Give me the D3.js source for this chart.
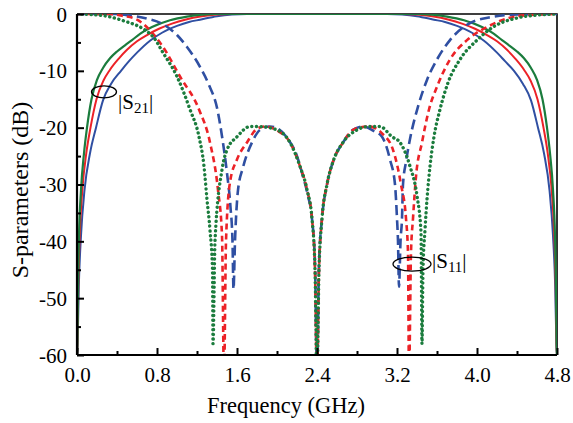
<!DOCTYPE html>
<html>
<head>
<meta charset="utf-8">
<script src="https://cdn.jsdelivr.net/npm/d3@7"></script>
<style>
  body { margin: 0; background: #fff; }
  svg, svg text { font-family: 'Liberation Serif', 'Times New Roman', Times, 'DejaVu Serif', serif; }
</style>
</head>
<body>
<div id="chart"></div>
<script>
// x ticks (GHz) and y ticks (dB)
var xTicks = [0, 0.8, 1.6, 2.4, 3.2, 4.0, 4.8];
var yTicks = [0, -10, -20, -30, -40, -50, -60];

// |S21|: [GHz, dB]
var s21Blue = [[0, -60], [0.006, -58], [0.018, -48], [0.04, -39], [0.075, -31], [0.13, -24.5], [0.19, -20],
  [0.26, -15.2], [0.34, -12.3], [0.44, -10], [0.52, -8.3], [0.6, -6.8], [0.73, -4.7], [0.85, -3.3], [1.0, -2.1],
  [1.12, -1.4], [1.23, -1.0], [1.4, -0.4], [1.55, -0.1], [1.7, 0], [3.1, 0], [3.25, -0.1], [3.4, -0.4], [3.57, -1.0],
  [3.68, -1.4], [3.8, -2.1], [3.95, -3.3], [4.07, -4.7], [4.2, -6.8], [4.28, -8.3], [4.37, -10], [4.46, -12.3],
  [4.54, -15.2], [4.61, -20], [4.67, -24.5], [4.725, -31], [4.76, -39], [4.782, -48], [4.794, -58], [4.8, -60]];
var s21Red = [[0, -60], [0.005, -58], [0.013, -48], [0.027, -39], [0.053, -31], [0.093, -24.5], [0.135, -20],
  [0.195, -15], [0.265, -11.7], [0.33, -9.8], [0.42, -7.8], [0.5, -6.3], [0.6, -4.8], [0.7, -3.7], [0.82, -2.6],
  [0.95, -1.7], [1.08, -1.0], [1.25, -0.4], [1.4, -0.1], [1.55, 0], [3.25, 0], [3.4, -0.1], [3.55, -0.4], [3.72, -1.0],
  [3.85, -1.7], [3.98, -2.6], [4.1, -3.7], [4.2, -4.8], [4.3, -6.3], [4.38, -7.8], [4.47, -9.8], [4.535, -11.7],
  [4.605, -15], [4.665, -20], [4.707, -24.5], [4.747, -31], [4.773, -39], [4.787, -48], [4.795, -58], [4.8, -60]];
var s21Green = [[0, -60], [0.004, -58], [0.01, -48], [0.02, -39], [0.04, -31], [0.07, -24.5], [0.1, -20],
  [0.145, -15], [0.2, -11.6], [0.26, -9.5], [0.33, -7.8], [0.4, -6.6], [0.48, -5.5], [0.55, -4.6], [0.63, -3.5],
  [0.75, -2.3], [0.93, -1.1], [1.1, -0.45], [1.25, -0.12], [1.4, 0], [3.4, 0], [3.55, -0.12], [3.7, -0.45],
  [3.87, -1.1], [4.05, -2.3], [4.17, -3.5], [4.25, -4.6], [4.32, -5.5], [4.4, -6.6], [4.47, -7.8], [4.54, -9.5],
  [4.6, -11.6], [4.655, -15], [4.7, -20], [4.73, -24.5], [4.76, -31], [4.78, -39], [4.79, -48], [4.796, -58], [4.8, -60]];

// |S11|: [GHz, dB]
var s11Blue = [[0, 0], [0.4, 0], [0.5, -0.2], [0.7, -0.8], [0.85, -1.7], [1.0, -3.7], [1.1, -5.8], [1.23, -9.3],
  [1.32, -12.5], [1.4, -16.5], [1.45, -21.5], [1.5, -28], [1.535, -34], [1.555, -40], [1.565, -48.4], [1.58, -40],
  [1.61, -31], [1.66, -27], [1.75, -22.6], [1.83, -20.4], [1.93, -19.8], [2.02, -20.3], [2.1, -21.8], [2.2, -25],
  [2.26, -28.6], [2.31, -32], [2.35, -36], [2.38, -44], [2.4, -64], [2.42, -44], [2.45, -36], [2.5, -30], [2.56, -26],
  [2.66, -22.6], [2.76, -20.4], [2.86, -19.8], [2.96, -20.5], [3.05, -21.6], [3.13, -25.6], [3.18, -30], [3.2, -36],
  [3.21, -40], [3.22, -48], [3.235, -40], [3.25, -36], [3.26, -30], [3.29, -26], [3.33, -22], [3.41, -16.3],
  [3.5, -11.6], [3.6, -8], [3.73, -4.6], [3.93, -1.6], [4.16, -0.5], [4.4, -0.1], [4.8, 0]];
var s11Red = [[0, 0], [0.3, 0], [0.45, -0.3], [0.6, -1], [0.86, -5.8], [1.03, -11], [1.22, -16.8], [1.33, -22.6],
  [1.41, -31], [1.45, -39], [1.47, -64], [1.49, -40], [1.53, -29.6], [1.6, -25.6], [1.7, -22.6], [1.8, -20.2],
  [1.88, -19.8], [2.0, -20.5], [2.13, -22.6], [2.23, -26.8], [2.3, -30.9], [2.35, -36], [2.38, -45], [2.4, -64],
  [2.42, -45], [2.45, -36], [2.5, -30], [2.56, -26], [2.66, -22.6], [2.78, -20.2], [2.92, -19.8], [3.05, -21],
  [3.16, -23.9], [3.24, -30], [3.29, -36], [3.31, -42], [3.32, -64], [3.34, -42], [3.36, -36], [3.39, -28.6],
  [3.45, -22.6], [3.52, -16.8], [3.6, -12.8], [3.73, -8], [3.9, -4.6], [4.1, -2.3], [4.3, -0.8], [4.5, -0.2], [4.8, 0]];
var s11Green = [[0, 0], [0.15, -0.1], [0.3, -0.4], [0.43, -1], [0.76, -4], [0.86, -6.8], [1.0, -11], [1.13, -16.8],
  [1.22, -21.6], [1.27, -26.8], [1.3, -32.6], [1.33, -38], [1.355, -45], [1.36, -58], [1.38, -40], [1.45, -27.4],
  [1.5, -23.9], [1.6, -21.6], [1.73, -19.8], [1.82, -19.8], [2.0, -20.4], [2.13, -22.6], [2.23, -26.8], [2.3, -30.9],
  [2.35, -36], [2.38, -45], [2.4, -64], [2.42, -45], [2.45, -36], [2.5, -30], [2.56, -26], [2.66, -22.6], [2.8, -20.4],
  [2.92, -19.8], [3.03, -19.8], [3.15, -21.6], [3.23, -22.6], [3.33, -26.8], [3.4, -32], [3.44, -38.4], [3.45, -58],
  [3.46, -45], [3.48, -38], [3.5, -32.6], [3.53, -26.8], [3.57, -21.6], [3.63, -16.8], [3.71, -12.1], [3.83, -8],
  [4.0, -4.6], [4.16, -2.3], [4.4, -0.7], [4.6, -0.2], [4.8, 0]];

var blue = '#2f4fa2', red = '#ec2227', green = '#1b7c3d';

var series = [
  { data: s21Blue, color: blue, dash: null, width: 2 },
  { data: s21Red, color: red, dash: null, width: 2 },
  { data: s21Green, color: green, dash: null, width: 2.2 },
  { data: s11Blue, color: blue, dash: '10 5', width: 2.6, cap: 'butt' },
  { data: s11Red, color: red, dash: '6 4', width: 2.6, cap: 'butt' },
  { data: s11Green, color: green, dash: '0.1 4.6', width: 3.4, cap: 'round' },
];

var width = 573, height = 423;
var margin = { left: 77, right: 16, top: 14, bottom: 68 };

var x = d3.scaleLinear().domain([0, 4.8]).range([margin.left, width - margin.right]);
var y = d3.scaleLinear().domain([-60, 0]).range([height - margin.bottom, margin.top]);

var svg = d3.select('#chart').append('svg')
  .attr('width', width).attr('height', height)
  .style('display', 'block');

svg.append('clipPath').attr('id', 'plot')
  .append('rect')
  .attr('x', x(0)).attr('y', y(0))
  .attr('width', x(4.8) - x(0)).attr('height', y(-60) - y(0));

// frame top / right
svg.append('path')
  .attr('d', `M${x(0)},${y(0)}H${x(4.8)}V${y(-60)}`)
  .attr('fill', 'none').attr('stroke', '#000').attr('stroke-width', 1.6);

var line = d3.line().x((d) => x(d[0])).y((d) => y(d[1])).curve(d3.curveMonotoneX);

var lines = svg.append('g').attr('clip-path', 'url(#plot)');
lines.selectAll('path')
  .data(series)
  .join('path')
  .attr('d', (d) => line(d.data))
  .attr('fill', 'none')
  .attr('stroke', (d) => d.color)
  .attr('stroke-width', (d) => d.width)
  .attr('stroke-dasharray', (d) => d.dash)
  .attr('stroke-linecap', (d) => d.cap || 'butt')
  .attr('stroke-linejoin', 'round');

// axes
var xAxis = d3.axisBottom(x).tickValues(xTicks).tickFormat(d3.format('.1f')).tickSize(-7).tickPadding(12);
var xMinor = d3.axisBottom(x).tickValues(d3.range(0.4, 4.8, 0.8)).tickFormat('').tickSize(-4);
var yAxis = d3.axisLeft(y).tickValues(yTicks).tickFormat((d) => String(d)).tickSize(-7).tickPadding(10);
var yMinor = d3.axisLeft(y).tickValues(d3.range(-55, 0, 10)).tickFormat('').tickSize(-4);

function styleAxis(g) {
  g.attr('font-family', null).attr('font-size', null);
  g.select('.domain').attr('stroke', '#000').attr('stroke-width', 2.2);
  g.selectAll('.tick line').attr('stroke', '#000').attr('stroke-width', 2);
  g.selectAll('.tick text').attr('fill', '#000').style('font-size', '21px');
}

svg.append('g').attr('transform', `translate(0,${y(-60)})`).call(xMinor).call(styleAxis)
  .select('.domain').remove();
svg.append('g').attr('transform', `translate(${x(0)},0)`).call(yMinor).call(styleAxis)
  .select('.domain').remove();
svg.append('g').attr('transform', `translate(0,${y(-60)})`).call(xAxis).call(styleAxis)
  .call((g) => g.select('.domain').attr('d', `M${x(0)},0H${x(4.8)}`));
svg.append('g').attr('transform', `translate(${x(0)},0)`).call(yAxis).call(styleAxis)
  .call((g) => g.select('.domain').attr('d', `M0,${y(-60)}V${y(0)}`))
  .selectAll('.tick text').attr('dy', '0.34em');

// axis titles
svg.append('text')
  .attr('x', 286).attr('y', 413)
  .attr('text-anchor', 'middle')
  .style('font-size', '22.5px')
  .text('Frequency (GHz)');

svg.append('text')
  .attr('transform', 'translate(28,190) rotate(-90)')
  .attr('text-anchor', 'middle')
  .style('font-size', '24px')
  .text('S-parameters (dB)');

// annotations
function label(px, py, sub) {
  var t = svg.append('text').attr('x', px).attr('y', py).style('font-size', '21px');
  t.append('tspan').text('|S');
  t.append('tspan').attr('dy', 4).style('font-size', '15px').text(sub);
  t.append('tspan').attr('dy', -4).text('|');
}

svg.append('ellipse')
  .attr('cx', x(0.27)).attr('cy', y(-13.7)).attr('rx', 12.5).attr('ry', 6)
  .attr('fill', 'none').attr('stroke', '#000').attr('stroke-width', 1.3);
label(x(0.41), 109, '21');

svg.append('ellipse')
  .attr('cx', x(3.35)).attr('cy', y(-44)).attr('rx', 19).attr('ry', 7)
  .attr('fill', 'none').attr('stroke', '#000').attr('stroke-width', 1.3);
label(x(3.55), 268, '11');
</script>
</body>
</html>
